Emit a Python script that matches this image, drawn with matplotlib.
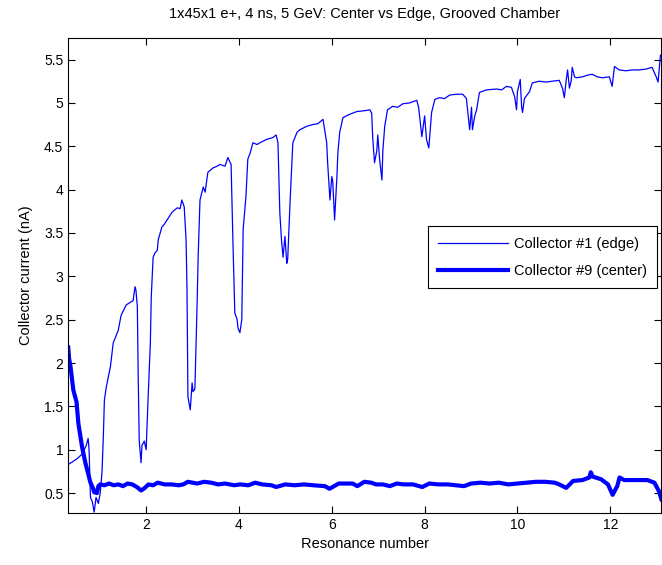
import matplotlib
matplotlib.use("Agg")
import matplotlib.pyplot as plt
from matplotlib.ticker import FormatStrFormatter

plt.rcParams['font.family'] = ['Liberation Sans', 'DejaVu Sans']

# Collector #1 (edge)
edge_x = [0.32, 0.41, 0.52, 0.62, 0.71, 0.75, 0.77, 0.80, 0.84, 0.88, 0.92, 0.97,
          1.01, 1.05, 1.08, 1.10, 1.14, 1.23, 1.29, 1.40, 1.46, 1.57, 1.66, 1.72,
          1.76, 1.78, 1.81, 1.83, 1.85, 1.89, 1.91, 1.96, 2.00, 2.04, 2.09, 2.11,
          2.15, 2.19, 2.24, 2.26, 2.34, 2.39, 2.45, 2.56, 2.67, 2.73, 2.77, 2.82,
          2.86, 2.88, 2.90, 2.95, 2.99, 3.01, 3.05, 3.10, 3.12, 3.16, 3.23, 3.27,
          3.33, 3.44, 3.53, 3.59, 3.70, 3.76, 3.83, 3.87, 3.91, 3.96, 3.98, 4.02,
          4.06, 4.09, 4.15, 4.19, 4.24, 4.30, 4.39, 4.45, 4.60, 4.73, 4.80, 4.84,
          4.88, 4.92, 4.95, 4.99, 5.03, 5.05, 5.10, 5.16, 5.25, 5.31, 5.46, 5.59,
          5.70, 5.81, 5.89, 5.91, 5.96, 6.00, 6.02, 6.06, 6.11, 6.13, 6.17, 6.24,
          6.39, 6.54, 6.71, 6.82, 6.86, 6.88, 6.92, 6.97, 6.99, 7.03, 7.08, 7.10,
          7.14, 7.20, 7.31, 7.42, 7.53, 7.68, 7.83, 7.87, 7.94, 8.00, 8.04, 8.09,
          8.15, 8.22, 8.32, 8.43, 8.54, 8.69, 8.82, 8.90, 8.97, 9.01, 9.03, 9.08,
          9.12, 9.18, 9.33, 9.55, 9.66, 9.76, 9.87, 9.94, 9.98, 10.00, 10.06, 10.09,
          10.11, 10.15, 10.26, 10.32, 10.47, 10.62, 10.75, 10.90, 10.97, 11.01, 11.05, 11.08,
          11.12, 11.16, 11.18, 11.23, 11.27, 11.40, 11.51, 11.61, 11.72, 11.83, 11.98, 12.04,
          12.09, 12.19, 12.34, 12.47, 12.62, 12.77, 12.90, 12.99, 13.03, 13.08]
edge_y = [0.83, 0.86, 0.90, 0.95, 1.05, 1.13, 1.00, 0.45, 0.40, 0.28, 0.45, 0.38,
          0.50, 0.75, 1.20, 1.57, 1.72, 1.96, 2.23, 2.38, 2.55, 2.67, 2.70, 2.72,
          2.88, 2.84, 2.65, 1.80, 1.11, 0.85, 1.05, 1.10, 1.00, 1.57, 2.23, 2.76,
          3.22, 3.27, 3.30, 3.42, 3.57, 3.60, 3.65, 3.74, 3.79, 3.78, 3.88, 3.80,
          3.42, 2.84, 1.61, 1.46, 1.77, 1.67, 1.70, 2.73, 3.22, 3.88, 4.03, 3.97,
          4.20, 4.25, 4.27, 4.29, 4.27, 4.37, 4.29, 3.39, 2.58, 2.50, 2.40, 2.35,
          2.50, 3.54, 3.92, 4.35, 4.42, 4.54, 4.52, 4.54, 4.58, 4.60, 4.63, 4.54,
          3.73, 3.39, 3.22, 3.46, 3.15, 3.20, 3.85, 4.54, 4.66, 4.69, 4.73, 4.75,
          4.76, 4.81, 4.54, 4.31, 3.88, 4.15, 4.10, 3.65, 4.15, 4.42, 4.66, 4.83,
          4.87, 4.90, 4.91, 4.92, 4.88, 4.61, 4.31, 4.45, 4.63, 4.35, 4.11, 4.45,
          4.73, 4.92, 4.96, 4.95, 4.99, 5.00, 5.03, 4.95, 4.61, 4.85, 4.58, 4.48,
          4.89, 5.04, 5.06, 5.05, 5.09, 5.10, 5.10, 5.05, 4.69, 4.95, 4.69, 4.85,
          4.92, 5.12, 5.15, 5.16, 5.15, 5.19, 5.18, 5.07, 4.92, 5.13, 5.27, 4.95,
          4.89, 5.05, 5.13, 5.23, 5.25, 5.24, 5.25, 5.26, 5.17, 5.06, 5.26, 5.38,
          5.17, 5.26, 5.41, 5.30, 5.29, 5.30, 5.32, 5.33, 5.30, 5.29, 5.30, 5.19,
          5.42, 5.38, 5.37, 5.38, 5.38, 5.39, 5.41, 5.30, 5.24, 5.55]

# Collector #9 (center)
center_x = [0.32, 0.34, 0.37, 0.43, 0.50, 0.54, 0.62, 0.69, 0.80, 0.86, 0.88, 0.94,
            0.97, 1.01, 1.10, 1.20, 1.30, 1.40, 1.50, 1.60, 1.70, 1.80, 1.89, 1.95,
            2.05, 2.15, 2.25, 2.40, 2.55, 2.70, 2.80, 2.90, 3.10, 3.25, 3.40, 3.55,
            3.70, 3.90, 4.02, 4.20, 4.35, 4.50, 4.70, 4.80, 5.00, 5.20, 5.40, 5.60,
            5.85, 5.95, 6.05, 6.15, 6.30, 6.45, 6.55, 6.70, 6.85, 6.95, 7.10, 7.25,
            7.40, 7.55, 7.75, 7.95, 8.10, 8.30, 8.50, 8.85, 9.00, 9.20, 9.40, 9.60,
            9.80, 10.00, 10.20, 10.40, 10.60, 10.80, 10.90, 11.05, 11.20, 11.40, 11.55, 11.58,
            11.62, 11.80, 11.95, 12.05, 12.15, 12.20, 12.30, 12.50, 12.80, 12.95, 13.05, 13.10]
center_y = [2.18, 2.05, 1.96, 1.69, 1.55, 1.30, 1.03, 0.85, 0.62, 0.55, 0.51, 0.50,
            0.58, 0.60, 0.59, 0.61, 0.59, 0.60, 0.58, 0.61, 0.60, 0.57, 0.53, 0.55,
            0.60, 0.59, 0.62, 0.60, 0.60, 0.59, 0.60, 0.63, 0.61, 0.63, 0.62, 0.60,
            0.61, 0.59, 0.60, 0.59, 0.62, 0.60, 0.59, 0.57, 0.60, 0.59, 0.60, 0.59,
            0.58, 0.55, 0.58, 0.61, 0.61, 0.61, 0.58, 0.63, 0.62, 0.60, 0.60, 0.58,
            0.61, 0.60, 0.60, 0.57, 0.61, 0.60, 0.60, 0.58, 0.61, 0.62, 0.61, 0.62,
            0.60, 0.61, 0.62, 0.63, 0.63, 0.62, 0.60, 0.56, 0.64, 0.65, 0.68, 0.74,
            0.69, 0.66, 0.60, 0.48, 0.58, 0.68, 0.65, 0.65, 0.65, 0.62, 0.52, 0.43]

x_ticks = [2, 4, 6, 8, 10, 12]
y_ticks = [0.5, 1, 1.5, 2, 2.5, 3, 3.5, 4, 4.5, 5, 5.5]

fig = plt.figure(figsize=(6.62, 5.65), dpi=100)
ax = fig.add_axes([0.103, 0.092, 0.896, 0.841])

ax.plot(edge_x, edge_y, color='#0000ff', lw=0.9, label='Collector #1 (edge)')
ax.plot(center_x, center_y, color='#0000ff', lw=3, label='Collector #9 (center)')

ax.set_xlim(0.32, 13.1)
ax.set_ylim(0.27, 5.75)
ax.set_xticks(x_ticks)
ax.set_yticks(y_ticks)
ax.yaxis.set_major_formatter(FormatStrFormatter('%g'))
ax.tick_params(direction='in', top=True, right=True, length=5, labelsize=10)

ax.set_title('1x45x1 e+, 4 ns, 5 GeV: Center vs Edge, Grooved Chamber', fontsize=10.5, pad=14)
ax.set_xlabel('Resonance number', fontsize=10.5)
ax.set_ylabel('Collector current (nA)', fontsize=10.5, labelpad=8)

leg = ax.legend(loc='upper right', bbox_to_anchor=(0.993, 0.603), fancybox=False,
                edgecolor='black', framealpha=1, fontsize=10.5, handlelength=4.8,
                labelspacing=0.9, borderpad=0.7, handletextpad=0.4, borderaxespad=0)
leg.get_frame().set_linewidth(0.8)

fig.savefig('out.png', dpi=100)
